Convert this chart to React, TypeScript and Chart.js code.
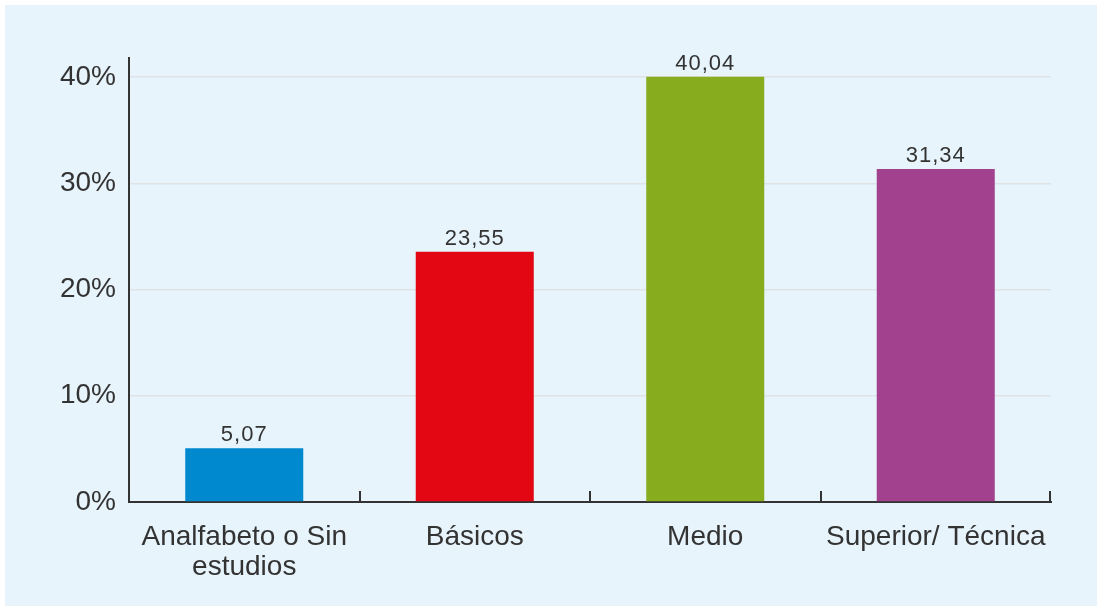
import React, { useEffect, useRef } from "react";
import { Chart, registerables } from "chart.js";

Chart.register(...registerables);

const categories: (string | string[])[] = [
  ["Analfabeto o Sin", "estudios"],
  "Básicos",
  "Medio",
  "Superior/ Técnica",
];
const values: number[] = [5.07, 23.55, 40.04, 31.34];
const valueLabels: string[] = ["5,07", "23,55", "40,04", "31,34"];
const barColors: string[] = ["#0089cf", "#e30613", "#87ad1f", "#a2418e"];
const yTickValues: number[] = [0, 10, 20, 30, 40];

const FONT = "'Liberation Sans', Arial, sans-serif";
const TEXT = "#333333";

export default function App() {
  const ref = useRef<HTMLCanvasElement | null>(null);

  useEffect(() => {
    if (!ref.current) return;

    const valueLabelPlugin = {
      id: "valueLabels",
      afterDatasetsDraw(chart: any) {
        const ctx = chart.ctx;
        const meta = chart.getDatasetMeta(0);
        ctx.save();
        ctx.font = `22px ${FONT}`;
        try {
          (ctx as any).letterSpacing = "1px";
        } catch (e) {}
        ctx.fillStyle = TEXT;
        ctx.textAlign = "center";
        ctx.textBaseline = "alphabetic";
        meta.data.forEach((bar: any, i: number) => {
          ctx.fillText(valueLabels[i], bar.x, bar.y - 7);
        });
        ctx.restore();
      },
    };

    const innerTicksPlugin = {
      id: "innerTicks",
      afterDraw(chart: any) {
        const { ctx, chartArea } = chart;
        const n = categories.length;
        const w = (chartArea.right - chartArea.left) / n;
        ctx.save();
        ctx.strokeStyle = TEXT;
        ctx.lineWidth = 2;
        for (let i = 1; i <= n; i++) {
          const x = Math.round(chartArea.left + i * w) - (i === n ? 1 : 0);
          ctx.beginPath();
          ctx.moveTo(x, chartArea.bottom);
          ctx.lineTo(x, chartArea.bottom - 11);
          ctx.stroke();
        }
        ctx.restore();
      },
    };

    const chart = new Chart(ref.current, {
      type: "bar",
      data: {
        labels: categories,
        datasets: [
          {
            data: values,
            backgroundColor: barColors,
            borderWidth: 0,
            categoryPercentage: 1,
            barPercentage: 0.512,
          },
        ],
      },
      options: {
        responsive: false,
        animation: false,
        layout: { padding: { left: 0, right: 46, top: 58, bottom: 0 } },
        plugins: {
          legend: { display: false },
          tooltip: { enabled: false },
        },
        scales: {
          x: {
            grid: { display: false, drawTicks: false },
            border: { display: true, color: TEXT, width: 2 },
            ticks: {
              color: TEXT,
              padding: 21,
              maxRotation: 0,
              autoSkip: false,
              font: { family: FONT, size: 28, lineHeight: 1.05 },
            },
            afterFit(scale: any) {
              scale.height = 105;
            },
          },
          y: {
            min: 0,
            max: 41.8,
            afterBuildTicks(scale: any) {
              scale.ticks = yTickValues.map((v) => ({ value: v }));
            },
            grid: { color: "#dfe3e5", lineWidth: 1.5, drawTicks: false },
            border: { display: true, color: TEXT, width: 2 },
            ticks: {
              color: TEXT,
              padding: 13,
              font: { family: FONT, size: 28 },
              callback: (v: any) => `${v}%`,
            },
            afterFit(scale: any) {
              scale.width = 129;
            },
          },
        },
      },
      plugins: [valueLabelPlugin, innerTicksPlugin],
    });

    return () => chart.destroy();
  }, []);

  return (
    <div style={{ position: "relative", width: 1097, height: 607, background: "#ffffff" }}>
      <style>{`body{margin:0}`}</style>
      <div
        style={{
          position: "absolute",
          left: 5,
          top: 5,
          right: 0,
          bottom: 1,
          background: "#e7f4fc",
        }}
      />
      <canvas
        ref={ref}
        width={1097}
        height={607}
        style={{ position: "absolute", left: 0, top: 0, width: 1097, height: 607 }}
      />
    </div>
  );
}
